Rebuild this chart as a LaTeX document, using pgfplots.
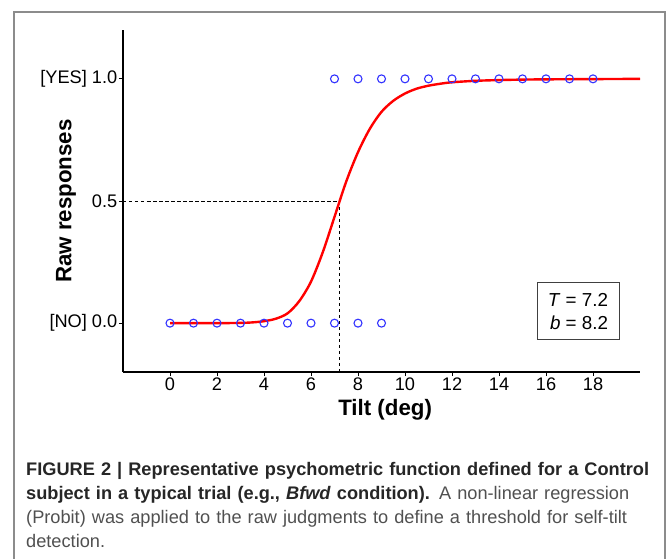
\documentclass[border=0pt]{standalone}
\usepackage{pgfplots}
\pgfplotsset{compat=1.18}
\usepackage{fontspec}
\setmainfont{Liberation Sans}
\definecolor{markblue}{RGB}{50,50,255}
\definecolor{capgray}{RGB}{80,80,80}
\definecolor{frgray}{RGB}{140,140,140}
\begin{document}
\hyphenpenalty=10000
\exhyphenpenalty=10000
\begin{tikzpicture}
\useasboundingbox (-123pt,-186pt) rectangle (546pt,372pt);
\draw[frgray, line width=1.3pt] (-109pt,-200pt) -- (-109pt,360pt) -- (542pt,360pt) -- (542pt,-200pt);
\begin{axis}[
  at={(0pt,0pt)}, anchor=south west,
  scale only axis, width=517pt, height=342pt,
  xmin=-2, xmax=20, ymin=-0.2, ymax=1.2,
  axis x line=bottom, axis y line=left,
  axis line style={-, line width=1.6pt},
  tick style={black, line width=1pt},
  tick align=outside, major tick length=4pt,
  xtick={0,2,...,18},
  ytick={0,0.5,1},
  yticklabels={{[NO] 0.0},{0.5},{[YES] 1.0}},
  /pgf/number format/assume math mode=true,
  ticklabel style={font=\fontsize{18.2}{20}\selectfont},
  yticklabel style={inner sep=1.5pt},
  xticklabel style={inner sep=2pt},
  xlabel={Tilt (deg)}, ylabel={Raw responses},
  label style={font=\fontsize{22.3}{26}\selectfont\bfseries},
  xlabel style={at={(axis description cs:0.507,-0.111)}, anchor=center},
  ylabel style={at={(axis description cs:-0.110,0.5)}, anchor=center},
  clip=false,
]
\addplot[black, line width=0.9pt, dash pattern=on 3.5pt off 2.5pt] coordinates {(-2,0.5) (7.2,0.5) (7.2,-0.2)};
\addplot[red, line width=2.4pt, smooth] coordinates {
(0,0.000) (1,0.000) (2,0.000) (3,0.001) (3.5,0.003) (4,0.008) (4.5,0.018) (5,0.040) (5.5,0.090) (6,0.170) (6.5,0.290) (7,0.435) (7.5,0.580) (8,0.700) (8.5,0.795) (9,0.865) (9.5,0.910) (10,0.940) (10.5,0.960) (11,0.972) (11.5,0.980) (12,0.986) (13,0.992) (14,0.995) (15,0.997) (16,0.998) (18,0.999) (20,1.000)};
\addplot[only marks, mark=o, mark size=4pt, markblue, mark options={line width=1.1pt}] coordinates {
(0,0) (1,0) (2,0) (3,0) (4,0) (5,0) (6,0) (7,0) (8,0) (9,0)
(7,1) (8,1) (9,1) (10,1) (11,1) (12,1) (13,1) (14,1) (15,1) (16,1) (17,1) (18,1)};
\node[draw=black!75, line width=0.9pt, minimum width=82pt, minimum height=57pt, align=right, inner sep=3pt, font=\fontsize{18.8}{23}\selectfont] at (axis cs:17.36,0.048) {\textit{T} = 7.2\\\textit{b} = 8.2};
\end{axis}
\node[anchor=north west, text width=640pt, align=left, inner sep=0pt, font=\fontsize{18.2}{24}\selectfont, text=capgray] at (-97pt,-90pt) {\hyphenpenalty=10000 \exhyphenpenalty=10000 \textbf{\color{black!85}FIGURE 2 | Representative psychometric function defined for a Control subject in a typical trial (e.g., \textit{Bfwd} condition).} A non-linear regression (Probit) was applied to the raw judgments to define a threshold for self-tilt detection.};
\end{tikzpicture}
\end{document}
